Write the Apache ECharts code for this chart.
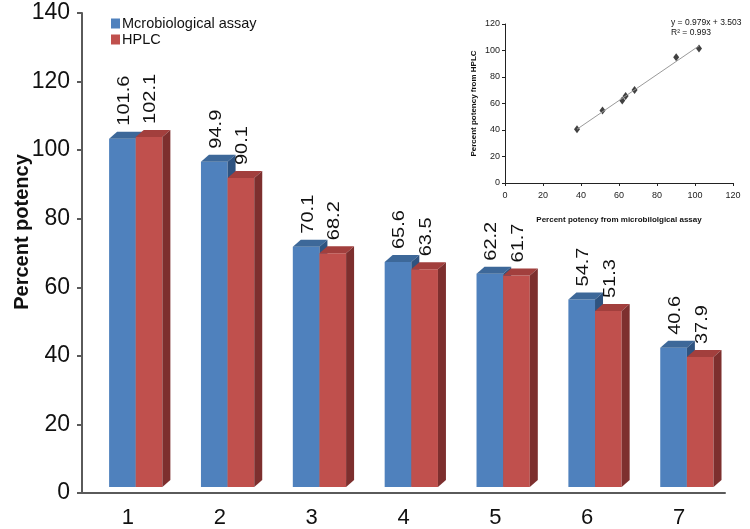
<!DOCTYPE html>
<html><head><meta charset="utf-8">
<script src="https://cdn.jsdelivr.net/npm/echarts@6/dist/echarts.min.js"></script>
<style>html,body{margin:0;padding:0;background:#fff}#c{width:750px;height:529px}</style>
</head><body><div id="c"></div>
<script>
const categories = ['1', '2', '3', '4', '5', '6', '7'];
const microValues = [101.6, 94.9, 70.1, 65.6, 62.2, 54.7, 40.6];
const hplcValues = [102.1, 90.1, 68.2, 63.5, 61.7, 51.3, 37.9];
const seriesNames = ['Mcrobiological assay', 'HPLC'];
const yMin = 0, yMax = 140, yStep = 20;
// inset scatter
const insetX = [37.9, 51.3, 61.7, 63.5, 68.2, 90.1, 102.1];
const insetY = [40.6, 54.7, 62.2, 65.6, 70.1, 94.9, 101.6];
const trendX = [37.9, 102.1];
const trendY = [40.6, 103.5];
const insetMin = 0, insetMax = 120, insetStep = 20;
const equationText = 'y = 0.979x + 3.503';
const r2Text = 'R² = 0.993';

const FONT = '"Liberation Sans", Arial, sans-serif';
const NARROW = '"Liberation Sans Narrow", "Liberation Sans", Arial, sans-serif';

const palette = [
  {front: '#4F81BD', top: '#3D6899', side: '#2E5380'},
  {front: '#C0504D', top: '#A23F3D', side: '#7D2F2E'}
];

function makeRender(k) {
  return function (params, api) {
    const i = api.value(0), v = api.value(1);
    const base = api.coord([i, 0]);
    const topP = api.coord([i, v]);
    const bw = api.size([1, 0])[0];
    const c = base[0];
    const w = bw * 0.29;
    const x0 = k === 0 ? c - bw * 0.205 : c - bw * 0.205 + w;
    const lift = 6, dx = 8, dy = 7;
    const yB = base[1] - lift, yT = topP[1] - lift;
    const col = palette[k];
    return {
      type: 'group',
      children: [
        {type: 'rect', shape: {x: x0, y: yT, width: w, height: yB - yT}, style: {fill: col.front}},
        {type: 'polygon', shape: {points: [[x0, yT], [x0 + w, yT], [x0 + w + dx, yT - dy], [x0 + dx, yT - dy]]}, style: {fill: col.top}},
        {type: 'polygon', shape: {points: [[x0 + w, yT], [x0 + w + dx, yT - dy], [x0 + w + dx, yB - dy], [x0 + w, yB]]}, style: {fill: col.side}},
        {type: 'text', x: x0 + w / 2 + 2, y: yT - 13, rotation: Math.PI / 2, scaleY: 0.8,
          style: {text: String(v), fontSize: 20, fontFamily: FONT, fill: '#111', align: 'left', verticalAlign: 'middle'}}
      ]
    };
  };
}

const chart = echarts.init(document.getElementById('c'));
chart.setOption({
  backgroundColor: '#fff',
  animation: false,
  legend: {
    orient: 'vertical', left: 106, top: 11, itemWidth: 9, itemHeight: 10, itemGap: 1,
    icon: 'rect', data: seriesNames, padding: 5,
    textStyle: {fontSize: 14.5, color: '#111', fontFamily: FONT, padding: [0, 0, 0, -3]}
  },
  grid: [
    {left: 82, right: 25, top: 13, bottom: 36},
    {left: 505, top: 24, width: 228, height: 159}
  ],
  xAxis: [
    {type: 'category', gridIndex: 0, data: categories,
      axisLine: {lineStyle: {color: '#5a5a5a', width: 2}},
      axisTick: {length: 7, lineStyle: {color: '#5a5a5a', width: 2}},
      axisLabel: {fontSize: 22, color: '#111', fontFamily: NARROW, margin: 14}},
    {type: 'value', gridIndex: 1, min: insetMin, max: insetMax, interval: insetStep,
      name: 'Percent potency from microbilolgical assay', nameLocation: 'middle', nameGap: 33,
      nameTextStyle: {fontSize: 8, fontWeight: 'bold', color: '#111', fontFamily: FONT},
      axisLine: {lineStyle: {color: '#222', width: 1}},
      axisTick: {length: 3, lineStyle: {color: '#222'}},
      axisLabel: {fontSize: 9, color: '#222', fontFamily: FONT, margin: 8},
      splitLine: {show: false}}
  ],
  yAxis: [
    {type: 'value', gridIndex: 0, min: yMin, max: yMax, interval: yStep,
      axisLine: {show: true, lineStyle: {color: '#5a5a5a', width: 2}},
      axisTick: {show: true, length: 5, lineStyle: {color: '#5a5a5a', width: 2}},
      axisLabel: {fontSize: 23, color: '#111', fontFamily: NARROW, margin: 12},
      splitLine: {show: false}},
    {type: 'value', gridIndex: 1, min: insetMin, max: insetMax, interval: insetStep,
      name: 'Percent potency from HPLC', nameLocation: 'middle', nameGap: 27,
      nameTextStyle: {fontSize: 8, fontWeight: 'bold', color: '#111', fontFamily: FONT},
      axisLine: {show: true, lineStyle: {color: '#222', width: 1}},
      axisTick: {show: true, length: 3, lineStyle: {color: '#222'}},
      axisLabel: {fontSize: 9, color: '#222', fontFamily: FONT, margin: 5},
      splitLine: {show: false}}
  ],
  graphic: [
    {type: 'text', x: 22, y: 232, rotation: Math.PI / 2,
      style: {text: 'Percent potency', fontSize: 20, fontWeight: 'bold', fontFamily: FONT, fill: '#111', align: 'center', verticalAlign: 'middle'}},
    {type: 'text', x: 671, y: 23, style: {text: equationText, fontSize: 8.5, fontFamily: FONT, fill: '#111', verticalAlign: 'middle'}},
    {type: 'text', x: 671, y: 33, style: {text: r2Text, fontSize: 8.5, fontFamily: FONT, fill: '#111', verticalAlign: 'middle'}}
  ],
  series: [
    {type: 'custom', name: seriesNames[0], xAxisIndex: 0, yAxisIndex: 0, itemStyle: {color: palette[0].front},
      renderItem: makeRender(0), data: microValues.map((v, i) => [i, v])},
    {type: 'custom', name: seriesNames[1], xAxisIndex: 0, yAxisIndex: 0, itemStyle: {color: palette[1].front},
      renderItem: makeRender(1), data: hplcValues.map((v, i) => [i, v])},
    {type: 'line', name: 'trend', xAxisIndex: 1, yAxisIndex: 1, symbol: 'none',
      lineStyle: {color: '#9a9a9a', width: 1}, data: trendX.map((x, i) => [x, trendY[i]])},
    {type: 'scatter', name: 'points', xAxisIndex: 1, yAxisIndex: 1, symbol: 'diamond', symbolSize: [6, 8],
      itemStyle: {color: '#111'}, data: insetX.map((x, i) => [x, insetY[i]])}
  ]
});
</script></body></html>
